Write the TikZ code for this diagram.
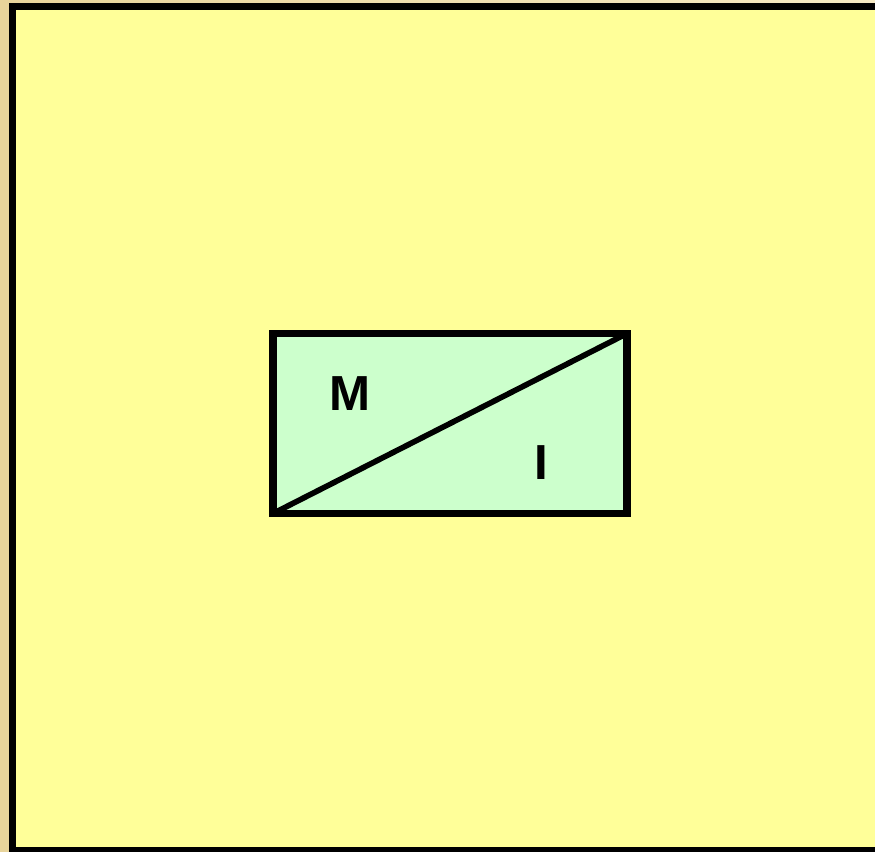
\documentclass[tikz,border=0pt]{standalone}
\usepackage{fontspec}
\setmainfont{Liberation Sans}
\usepackage{tikz}
\usetikzlibrary{positioning, calc}
\definecolor{jaune}{RGB}{255,255,153}
\definecolor{vert}{RGB}{204,255,204}
\definecolor{sable}{RGB}{232,212,155}
\definecolor{sableclair}{RGB}{246,234,196}
\begin{document}
\begin{tikzpicture}[x=0.025cm, y=-0.025cm, font=\fontsize{35}{40}\selectfont\bfseries]
	\useasboundingbox (0,0) rectangle (875,851);
	% fond
	\shade[left color=sable, right color=sableclair] (0,0) rectangle (875,851);
	\begin{scope}
		\clip (0,0) rectangle (875,851);
		\draw[fill=jaune, draw=black, line width=5.2pt] (12.5,6.5) rectangle (890,850.5);
	\end{scope}
	
	% boite M / I
	\draw[fill=vert, draw=black, line width=5.2pt] (273,333.5) rectangle (627,513.5);
	\draw[black, line width=4pt] (273,513.5) -- (627,333.5);
	
	\node (labelM) at (350,394) {M};
	\node (labelI) at (541,463) {I};
\end{tikzpicture}
\end{document}
